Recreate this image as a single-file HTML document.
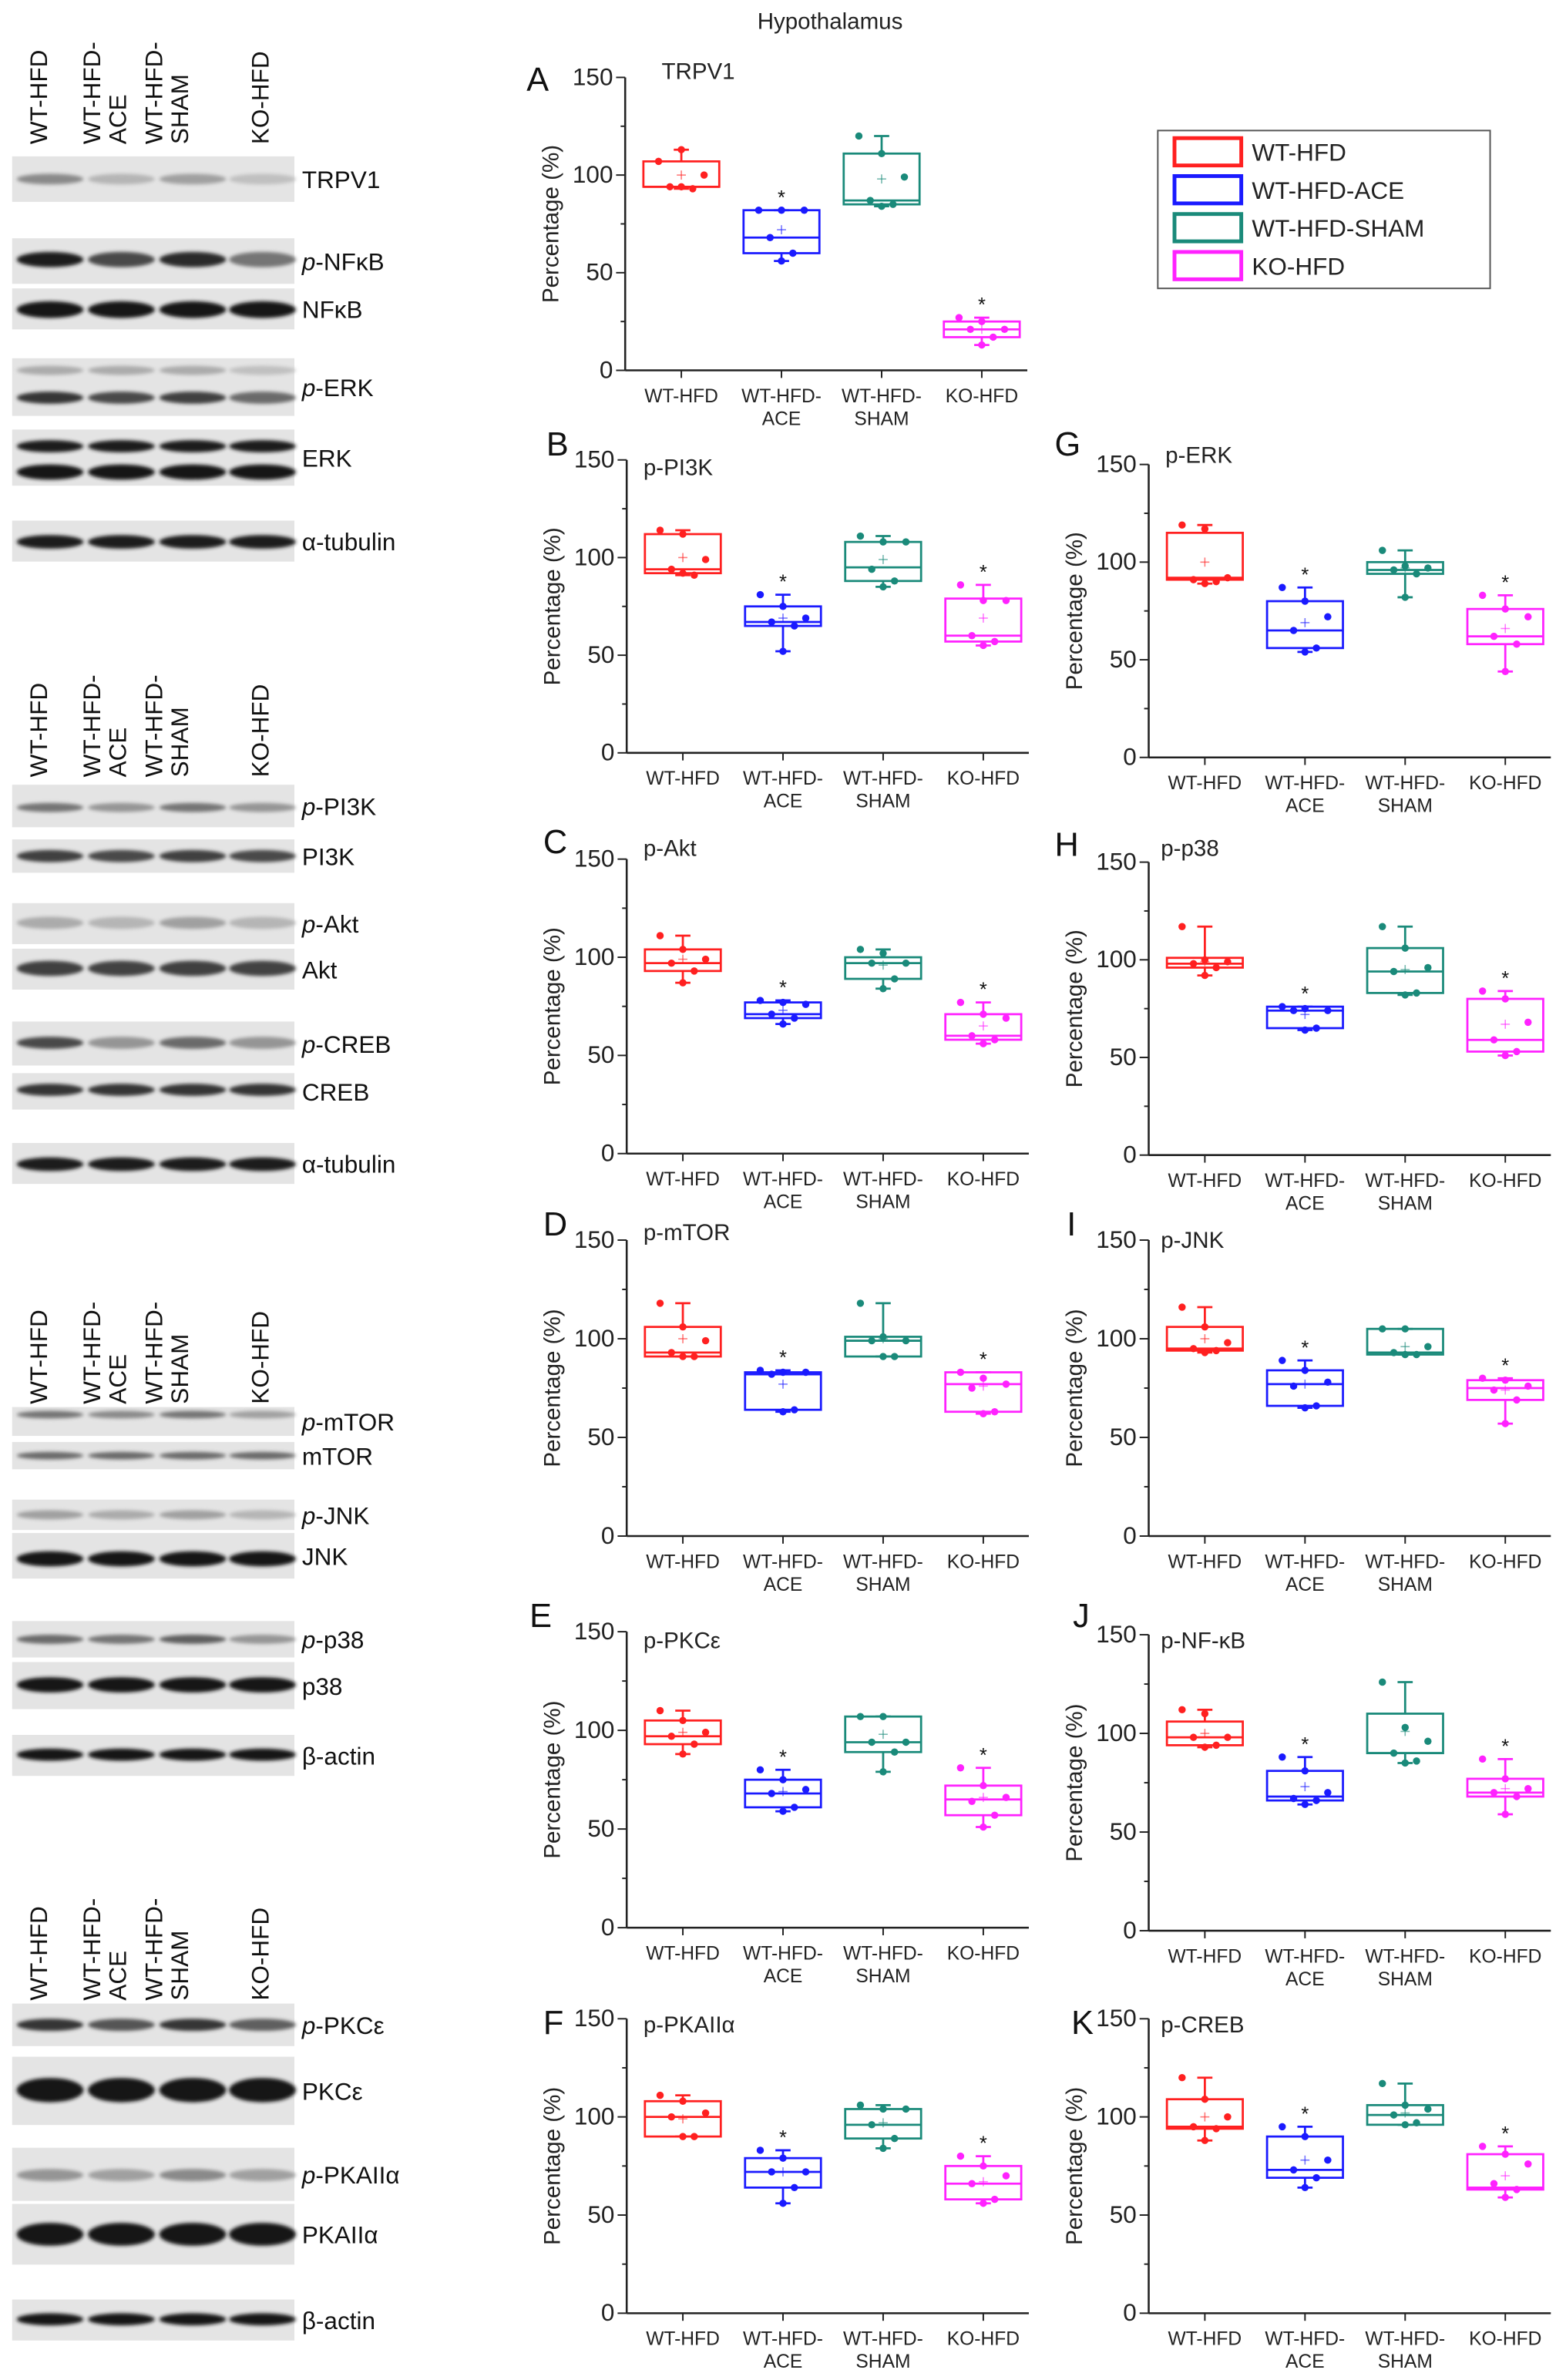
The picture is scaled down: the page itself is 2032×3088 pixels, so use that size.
<!DOCTYPE html>
<html><head><meta charset="utf-8">
<style>
html,body{margin:0;padding:0;background:#fff;}
svg{display:block;}
text{font-family:"Liberation Sans",sans-serif;}
</style></head>
<body>
<svg id="fig" width="2032" height="3088" viewBox="0 0 1032 1568" preserveAspectRatio="none" xmlns="http://www.w3.org/2000/svg">
<defs>
<filter id="blur" x="-20%" y="-50%" width="140%" height="200%"><feGaussianBlur stdDeviation="2.2"/></filter>
<filter id="blur2" x="-20%" y="-50%" width="140%" height="200%"><feGaussianBlur stdDeviation="1.2"/></filter>
</defs>
<text x="547" y="19" font-size="15" text-anchor="middle" fill="#222">Hypothalamus</text>
<g id="blots"></g>
<g id="charts"></g>
<g>
<rect x="763" y="86" width="219" height="104" fill="#fff" stroke="#555" stroke-width="1"/>
<rect x="774" y="91" width="44" height="18" fill="none" stroke="#ff2020" stroke-width="2.5"/>
<text x="825" y="106" font-size="16" fill="#222">WT-HFD</text>
<rect x="774" y="116" width="44" height="18" fill="none" stroke="#1a1aff" stroke-width="2.5"/>
<text x="825" y="131" font-size="16" fill="#222">WT-HFD-ACE</text>
<rect x="774" y="141" width="44" height="18" fill="none" stroke="#1a8a7a" stroke-width="2.5"/>
<text x="825" y="156" font-size="16" fill="#222">WT-HFD-SHAM</text>
<rect x="774" y="166" width="44" height="18" fill="none" stroke="#ff22ff" stroke-width="2.5"/>
<text x="825" y="181" font-size="16" fill="#222">KO-HFD</text>
</g>
</svg>
<script>
const NS='http://www.w3.org/2000/svg';
const categories=['WT-HFD','WT-HFD-ACE','WT-HFD-SHAM','KO-HFD'];
const catLine1=['WT-HFD','WT-HFD-','WT-HFD-','KO-HFD'];
const catLine2=['','ACE','SHAM',''];
const yTicks=[0,50,100,150];
const colors=['#ff2020','#1a1aff','#1a8a7a','#ff22ff'];
const sig=[false,true,false,true];
// box stats per group: [whiskerLow, q1, median, q3, whiskerHigh, mean]
const boxA=[[93,94,94,107,113,100],[56,60,68,82,82,72],[84,85,87,111,120,98],[13,17,21,25,27,21]];
const ptsA=[[107,113,100,94,93,94],[82,82,82,68,60,56],[120,111,99,87,85,84],[27,25,21,21,17,13]];
const boxB=[[91,92,94,112,114,100],[52,65,67,75,81,69],[85,88,95,108,111,99],[55,57,60,79,86,69]];
const ptsB=[[114,112,99,94,91,92],[81,75,69,67,65,52],[111,108,108,94,88,85],[86,78,78,60,57,55]];
const boxG=[[89,91,92,115,119,100],[54,56,65,80,87,69],[82,94,96,100,106,97],[44,58,62,76,83,66]];
const ptsG=[[119,117,92,91,90,89],[87,80,72,65,56,54],[106,98,97,96,94,82],[83,76,72,62,58,44]];
const boxC=[[87,93,97,104,111,99],[66,69,71,77,78,73],[84,89,97,100,104,96],[56,58,60,71,77,65]];
const ptsC=[[111,104,99,97,93,87],[78,77,76,71,69,66],[104,102,97,97,89,84],[77,71,69,60,58,56]];
const boxH=[[92,96,98,101,117,99],[64,65,74,76,76,72],[82,83,94,106,117,95],[51,53,59,80,84,67]];
const ptsH=[[117,100,99,98,96,92],[76,75,74,74,65,64],[117,106,96,94,83,82],[84,80,68,59,53,51]];
const boxD=[[91,91,93,106,118,100],[63,64,82,83,84,77],[91,91,99,101,118,100],[62,63,77,83,83,76]];
const ptsD=[[118,106,99,93,91,91],[84,83,83,82,64,63],[118,101,99,99,91,91],[83,80,77,75,63,62]];
const boxI=[[93,94,95,106,116,100],[65,66,77,84,89,77],[92,92,93,105,105,96],[57,69,75,79,80,74]];
const ptsI=[[116,106,98,95,94,93],[89,84,78,76,66,65],[105,105,96,93,92,92],[80,79,76,74,69,57]];
const boxE=[[88,93,97,105,110,99],[59,61,68,75,80,69],[79,89,94,107,107,98],[51,57,65,72,81,66]];
const ptsE=[[110,105,99,97,93,88],[80,75,70,68,61,59],[107,107,94,94,89,79],[81,72,66,64,57,51]];
const boxJ=[[93,94,98,106,112,100],[64,66,68,81,88,73],[85,90,90,110,126,101],[59,68,70,77,87,72]];
const ptsJ=[[112,110,98,98,94,93],[88,81,70,67,66,64],[126,103,96,90,86,85],[87,77,72,70,68,59]];
const boxF=[[90,90,100,108,111,99],[56,64,72,79,83,72],[84,89,96,104,106,97],[56,58,66,75,80,67]];
const ptsF=[[111,108,102,100,90,90],[83,79,72,72,64,56],[106,104,104,96,89,84],[80,75,70,66,58,56]];
const boxK=[[88,94,95,109,120,100],[64,69,73,90,95,78],[96,96,101,106,117,102],[59,63,64,81,85,70]];
const ptsK=[[120,109,100,95,94,88],[95,90,78,73,69,64],[117,106,104,101,97,96],[85,81,76,66,63,59]];

const panels=[
 {L:'A',t:'TRPV1',ax:412,y150:51,y0:244,lx:347,ly:60,tx:436,ty:52,box:boxA,pts:ptsA},
 {L:'B',t:'p-PI3K',ax:413,y150:303,y0:496,lx:360,ly:300,tx:424,ty:313,box:boxB,pts:ptsB},
 {L:'G',t:'p-ERK',ax:757,y150:306,y0:499,lx:695,ly:300,tx:768,ty:305,box:boxG,pts:ptsG},
 {L:'C',t:'p-Akt',ax:413,y150:566,y0:760,lx:358,ly:562,tx:424,ty:564,box:boxC,pts:ptsC},
 {L:'H',t:'p-p38',ax:757,y150:568,y0:761,lx:695,ly:564,tx:765,ty:564,box:boxH,pts:ptsH},
 {L:'D',t:'p-mTOR',ax:413,y150:817,y0:1012,lx:358,ly:814,tx:424,ty:817,box:boxD,pts:ptsD},
 {L:'I',t:'p-JNK',ax:757,y150:817,y0:1012,lx:703,ly:814,tx:765,ty:822,box:boxI,pts:ptsI},
 {L:'E',t:'p-PKCε',ax:413,y150:1075,y0:1270,lx:349,ly:1072,tx:424,ty:1086,box:boxE,pts:ptsE},
 {L:'J',t:'p-NF-κB',ax:757,y150:1077,y0:1272,lx:707,ly:1072,tx:765,ty:1086,box:boxJ,pts:ptsJ},
 {L:'F',t:'p-PKAIIα',ax:413,y150:1330,y0:1524,lx:358,ly:1340,tx:424,ty:1339,box:boxF,pts:ptsF},
 {L:'K',t:'p-CREB',ax:757,y150:1330,y0:1524,lx:706,ly:1340,tx:765,ty:1339,box:boxK,pts:ptsK}
];
const jitter=[-0.3,0,0.3,-0.15,0.15,0];

function mk(tag,attrs,parent){const e=document.createElementNS(NS,tag);for(const k in attrs)e.setAttribute(k,attrs[k]);parent.appendChild(e);return e;}

const charts=document.getElementById('charts');
panels.forEach(p=>{
  const g=mk('g',{},charts);
  
  
  const yS=v=>p.y0-(v/150)*(p.y0-p.y150);
  const xS=i=>p.ax+37+i*66;
  const bw=50;
  const lt=mk('text',{x:p.lx,y:p.ly,'font-size':22,fill:'#111'},g);lt.textContent=p.L;
  
  
  const tt=mk('text',{x:p.tx,y:p.ty,'font-size':15,fill:'#222'},g);tt.textContent=p.t;
  
  
  const ya=mk('line',{x1:p.ax,y1:p.y150,x2:p.ax,y2:p.y0,stroke:'#222','stroke-width':1.3},g);
  
  
  const xa=mk('line',{x1:p.ax,y1:p.y0,x2:p.ax+265,y2:p.y0,stroke:'#222','stroke-width':1.3},g);
  
  
  for(let v=0;v<=150;v+=25){const major=v%50===0;mk('line',{x1:p.ax-(major?6:3),y1:yS(v),x2:p.ax,y2:yS(v),stroke:'#222','stroke-width':1},g);}
  yTicks.forEach(v=>{const t=mk('text',{x:p.ax-8,y:yS(v)+5,'font-size':16,'text-anchor':'end',fill:'#222'},g);t.textContent=v;
    
    });
  const yl=mk('text',{x:p.ax-44,y:(p.y0+p.y150)/2,'font-size':15,'text-anchor':'middle',fill:'#222',transform:`rotate(-90 ${p.ax-44} ${(p.y0+p.y150)/2})`},g);yl.textContent='Percentage (%)';
  
  
  categories.forEach((c,i)=>{
    const x=xS(i);
    mk('line',{x1:x,y1:p.y0,x2:x,y2:p.y0+5,stroke:'#222','stroke-width':1},g);
    const t1=mk('text',{x:x,y:p.y0+21,'font-size':12.5,'text-anchor':'middle',fill:'#222'},g);t1.textContent=catLine1[i];
    
    
    if(catLine2[i]){const t2=mk('text',{x:x,y:p.y0+36,'font-size':12.5,'text-anchor':'middle',fill:'#222'},g);t2.textContent=catLine2[i];
      
      }
    const b=p.box[i],col=colors[i];
    const bg=mk('g',{stroke:col,'stroke-width':1.4,fill:'none'},g);
    
    
    mk('line',{x1:x,y1:yS(b[0]),x2:x,y2:yS(b[1])},bg);
    mk('line',{x1:x,y1:yS(b[3]),x2:x,y2:yS(b[4])},bg);
    mk('line',{x1:x-5,y1:yS(b[0]),x2:x+5,y2:yS(b[0])},bg);
    mk('line',{x1:x-5,y1:yS(b[4]),x2:x+5,y2:yS(b[4])},bg);
    mk('rect',{x:x-bw/2,y:yS(b[3]),width:bw,height:Math.max(0.5,yS(b[1])-yS(b[3]))},bg);
    mk('line',{x1:x-bw/2,y1:yS(b[2]),x2:x+bw/2,y2:yS(b[2])},bg);
    const m=yS(b[5]);
    mk('line',{x1:x-3,y1:m,x2:x+3,y2:m,'stroke-width':0.8,opacity:0.6},bg);
    mk('line',{x1:x,y1:m-3,x2:x,y2:m+3,'stroke-width':0.8,opacity:0.6},bg);
    p.pts[i].forEach((v,k)=>{const d=mk('circle',{cx:x+jitter[k]*bw,cy:yS(v),r:2.4,fill:col,stroke:'none'},g);
      
      });
    if(sig[i]){const s=mk('text',{x:x,y:yS(b[4])-4,'font-size':13,'text-anchor':'middle',fill:'#111'},g);s.textContent='*';
      
      }
  });
});

const lanes=[33,80,127,173];
const blotRows=[
 {y:103,h:30,label:'TRPV1',p:'',bands:[[118,5,[0.45,0.25,0.35,0.2]]]},
 {y:157,h:30,label:'NFκB',p:'p-',bands:[[171,8,[0.95,0.75,0.9,0.55]]]},
 {y:190,h:27,label:'NFκB',p:'',bands:[[204,9,[1,1,1,1]]]},
 {y:236,h:38,label:'ERK',p:'p-',bands:[[244,4,[0.3,0.3,0.3,0.2]],[262,6,[0.85,0.75,0.8,0.6]]]},
 {y:283,h:37,label:'ERK',p:'',bands:[[294,6,[0.95,0.95,0.95,0.95]],[311,8,[1,1,1,1]]]},
 {y:343,h:27,label:'α-tubulin',p:'',bands:[[357,7,[0.95,0.95,0.95,0.95]]]},
 {y:517,h:28,label:'PI3K',p:'p-',bands:[[532,4,[0.55,0.4,0.55,0.4]]]},
 {y:553,h:22,label:'PI3K',p:'',bands:[[564,6,[0.8,0.75,0.8,0.75]]]},
 {y:595,h:27,label:'Akt',p:'p-',bands:[[608,6,[0.3,0.25,0.35,0.25]]]},
 {y:625,h:27,label:'Akt',p:'',bands:[[638,8,[0.8,0.78,0.8,0.78]]]},
 {y:673,h:29,label:'CREB',p:'p-',bands:[[687,6,[0.75,0.4,0.6,0.4]]]},
 {y:707,h:24,label:'CREB',p:'',bands:[[718,6,[0.85,0.85,0.85,0.85]]]},
 {y:753,h:27,label:'α-tubulin',p:'',bands:[[767,7,[0.95,0.95,0.95,0.95]]]},
 {y:927,h:19,label:'mTOR',p:'p-',bands:[[932,3,[0.55,0.45,0.55,0.35]]]},
 {y:950,h:18,label:'mTOR',p:'',bands:[[959,3,[0.6,0.6,0.6,0.6]]]},
 {y:988,h:20,label:'JNK',p:'p-',bands:[[998,4,[0.35,0.3,0.35,0.25]]]},
 {y:1010,h:30,label:'JNK',p:'',bands:[[1027,8,[1,1,1,1]]]},
 {y:1068,h:24,label:'p38',p:'p-',bands:[[1080,4,[0.6,0.55,0.65,0.4]]]},
 {y:1095,h:31,label:'p38',p:'',bands:[[1110,8,[1,1,1,1]]]},
 {y:1143,h:27,label:'β-actin',p:'',bands:[[1156,6,[1,1,1,1]]]},
 {y:1320,h:28,label:'PKCε',p:'p-',bands:[[1334,6,[0.85,0.7,0.85,0.65]]]},
 {y:1355,h:45,label:'PKCε',p:'',bands:[[1377,14,[1,1,1,1]]]},
 {y:1415,h:35,label:'PKAIIα',p:'p-',bands:[[1433,6,[0.4,0.35,0.45,0.35]]]},
 {y:1452,h:40,label:'PKAIIα',p:'',bands:[[1472,13,[1,1,1,1]]]},
 {y:1515,h:27,label:'β-actin',p:'',bands:[[1528,6,[1,1,1,1]]]}
];
const headerY=[95,512,925,1318];
const blots=document.getElementById('blots');
blotRows.forEach(r=>{
  const g=mk('g',{},blots);
  
  
  mk('rect',{x:8,y:r.y,width:186,height:r.h,fill:'#e4e4e4'},g);
  r.bands.forEach(b=>{
    lanes.forEach((lx,i)=>{const v=Math.round(235-215*b[2][i]);
      mk('ellipse',{cx:lx,cy:b[0],rx:22,ry:b[1]/2+1,fill:`rgb(${v},${v},${v})`,filter:'url(#blur2)'},g);});
  });
  const t=mk('text',{x:199,y:r.y+r.h/2+6,'font-size':16,fill:'#111'},g);
  if(r.p){const ts=mk('tspan',{'font-style':'italic'},t);ts.textContent='p';const t2=mk('tspan',{},t);t2.textContent='-'+r.label;}
  else t.textContent=r.label;
});
const headerOffsets=[-2,-14,-20,4];
headerY.forEach((hy,gi)=>{
  const g=mk('g',{},blots);
  
  
  const lines=[['WT-HFD'],['WT-HFD-','ACE'],['WT-HFD-','SHAM'],['KO-HFD']];
  lines.forEach((ls,i)=>{
    const baseX=lanes[i]+headerOffsets[i];
    ls.forEach((s,k)=>{
      const x=baseX+k*17;
      const t=mk('text',{x:x,y:hy,'font-size':16,fill:'#111',transform:`rotate(-90 ${x} ${hy})`},g);
      t.textContent=s;
      
      
    });
  });
});
</script>
</body></html>
